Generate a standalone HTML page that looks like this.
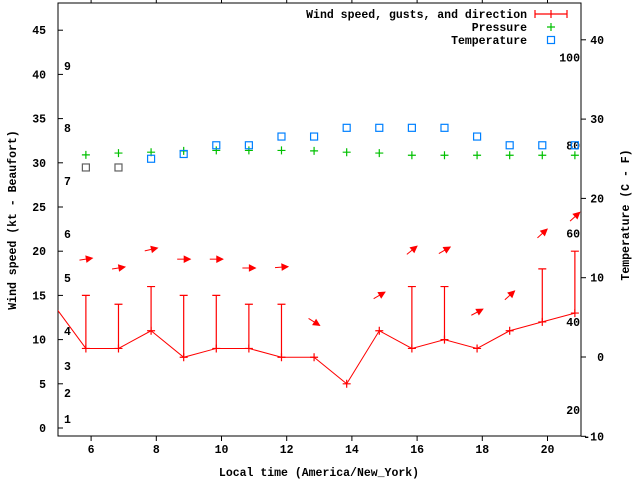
<!DOCTYPE html>
<html><head><meta charset="utf-8"><style>
html,body{margin:0;padding:0;background:#fff;}
svg text{font-family:"Liberation Mono",monospace;font-weight:bold;font-size:11.5px;fill:#000;}
</style></head><body>
<svg id="chart" width="640" height="480" viewBox="0 0 640 480" xmlns="http://www.w3.org/2000/svg">
<defs><clipPath id="plotclip"><rect x="58" y="3" width="523" height="433"/></clipPath></defs>
<g id="axes"></g>
<g id="plot" clip-path="url(#plotclip)"></g>
<g id="legend"></g>
</svg>
<script>
const times = [5.84,6.84,7.84,8.84,9.84,10.84,11.84,12.84,13.84,14.84,15.84,16.84,17.84,18.84,19.84,20.84];
const windSpeed = [9,9,11,8,9,9,8,8,5,11,9,10,9,11,12,13];
const prevTime = 4.84, prevSpeed = 14;
const gusts = [15,14,16,15,15,14,14,null,null,null,16,16,null,null,18,20];
const pressure = [30.9,31.1,31.2,31.35,31.4,31.4,31.4,31.35,31.2,31.1,30.85,30.85,30.85,30.85,30.85,30.85];
const tempC = [23.9,23.9,25.0,25.6,26.7,26.7,27.8,27.8,28.9,28.9,28.9,28.9,27.8,26.7,26.7,26.7];
const dirY = [19.1,18.1,20.2,19.1,19.1,18.1,18.2,12.0,null,15.0,20.1,20.1,13.1,15.0,22.0,23.9];
const dirDeg = [81,81,77,90,90,90,86,122,null,60,51,60,62,48,48,48];
const xTicks = [6,8,10,12,14,16,18,20];
const yTicks = [0,5,10,15,20,25,30,35,40,45];
const y2Ticks = [-10,0,10,20,30,40];
const fTicks = [20,40,60,80,100];
const beaufort = [[1,419],[2,393],[3,366],[4,331],[5,278],[6,234],[7,181],[8,128],[9,66]];

const L=58,R=581,T=3,B=436;
const X = t => 58.5 + (t-5)*32.6;
const Y = v => 428 - v*8.84;
const Y2 = c => 357 - c*7.93;
const NS='http://www.w3.org/2000/svg';
function mk(parent, tag, attrs){const e=document.createElementNS(NS,tag);for(const k in attrs)e.setAttribute(k,attrs[k]);parent.appendChild(e);return e;}
const axes=document.getElementById('axes'), plot=document.getElementById('plot'), legend=document.getElementById('legend');

let e=mk(axes,'rect',{x:L,y:T,width:R-L,height:B-T,fill:'none',stroke:'#000','stroke-width':1});



xTicks.forEach(t=>{
  const x=X(t);
  let l=mk(axes,'line',{x1:x,y1:B,x2:x,y2:B+5,stroke:'#000'});
  
  
  l=mk(axes,'line',{x1:x,y1:T,x2:x,y2:T-4,stroke:'#000'});
  
  
  const tx=mk(axes,'text',{x:x,y:453,'text-anchor':'middle'});tx.textContent=t;
  
  
});
yTicks.forEach(v=>{
  const y=Y(v);
  let l=mk(axes,'line',{x1:L,y1:y,x2:L+5,y2:y,stroke:'#000'});
  
  
  const tx=mk(axes,'text',{x:46,y:y+4,'text-anchor':'end'});tx.textContent=v;
  
  
});
y2Ticks.forEach(v=>{
  const y=Y2(v);
  let l=mk(axes,'line',{x1:R,y1:y,x2:R+5,y2:y,stroke:'#000'});
  
  
  const tx=mk(axes,'text',{x:604,y:y+4,'text-anchor':'end'});tx.textContent=v;
  
  
});
fTicks.forEach(f=>{
  const y=Y2((f-32)*5/9);
  const tx=mk(axes,'text',{x:580,y:y+4,'text-anchor':'end'});tx.textContent=f;
  
  
});
beaufort.forEach(b=>{
  const tx=mk(axes,'text',{x:64,y:b[1]+4});tx.textContent=b[0];
  
  
});
let t1=mk(axes,'text',{x:319,y:476,'text-anchor':'middle'});t1.textContent='Local time (America/New_York)';


let t2=mk(axes,'text',{x:0,y:0,'text-anchor':'middle',transform:'translate(16,220) rotate(-90)'});t2.textContent='Wind speed (kt - Beaufort)';


let t3=mk(axes,'text',{x:0,y:0,'text-anchor':'middle',transform:'translate(629,215) rotate(-90)'});t3.textContent='Temperature (C - F)';



const red='#ff0000', green='#00c000', blue='#0080ff';
function plus(g,x,y,c,s){const p=mk(g,'path',{d:`M${x-s},${y}H${x+s}M${x},${y-s}V${y+s}`,stroke:c,'stroke-width':1.2,fill:'none'});return p;}

// wind line
let pts=[[X(prevTime),Y(prevSpeed)]].concat(times.map((t,i)=>[X(t),Y(windSpeed[i])]));
let pl=mk(plot,'polyline',{points:pts.map(p=>p.join(',')).join(' '),fill:'none',stroke:red,'stroke-width':1});


times.forEach((t,i)=>{
  const x=X(t),y=Y(windSpeed[i]);
  const p=plus(plot,x,y,red,4);
  
  
  if(gusts[i]!=null){
    const gy=Y(gusts[i]);
    const g=mk(plot,'path',{d:`M${x},${y}V${gy}M${x-4},${gy}H${x+4}`,stroke:red,'stroke-width':1.2,fill:'none'});
    
    
  }
  if(dirY[i]!=null){
    const cy=Y(dirY[i]);
    const a=dirDeg[i]*Math.PI/180, dx=Math.sin(a)*6.5, dy=-Math.cos(a)*6.5;
    const hx=x+dx, hy=cy+dy, ux=dx/6.5, uy=dy/6.5;
    const g=mk(plot,'g',{});
    
    
    mk(g,'line',{x1:x-dx,y1:cy-dy,x2:hx,y2:hy,stroke:red,'stroke-width':1});
    const bx=hx-ux*6, by=hy-uy*6;
    mk(g,'polygon',{points:`${hx},${hy} ${bx-uy*3},${by+ux*3} ${bx+uy*3},${by-ux*3}`,fill:red,stroke:red});
  }
  const pp=plus(plot,x,Y(pressure[i]),green,4);
  
  
  const ty=Y2(tempC[i]);
  const sq=mk(plot,'rect',{x:x-3.5,y:ty-3.5,width:7,height:7,fill:'none',stroke:i<2?'#606060':blue,'stroke-width':1.2});
  
  
});

// legend
const lg=[['Wind speed, gusts, and direction',14],['Pressure',27],['Temperature',40]];
lg.forEach((r,i)=>{
  const tx=mk(legend,'text',{x:527,y:r[1]+4,'text-anchor':'end'});tx.textContent=r[0];
  
  
});
let s1=mk(legend,'path',{d:'M535,14H567M535,10V18M567,10V18M551,10V18',stroke:red,'stroke-width':1.2,fill:'none'});


let s2=plus(legend,551,27,green,4);


let s3=mk(legend,'rect',{x:547.5,y:36.5,width:7,height:7,fill:'none',stroke:blue,'stroke-width':1.2});


</script>
</body></html>
